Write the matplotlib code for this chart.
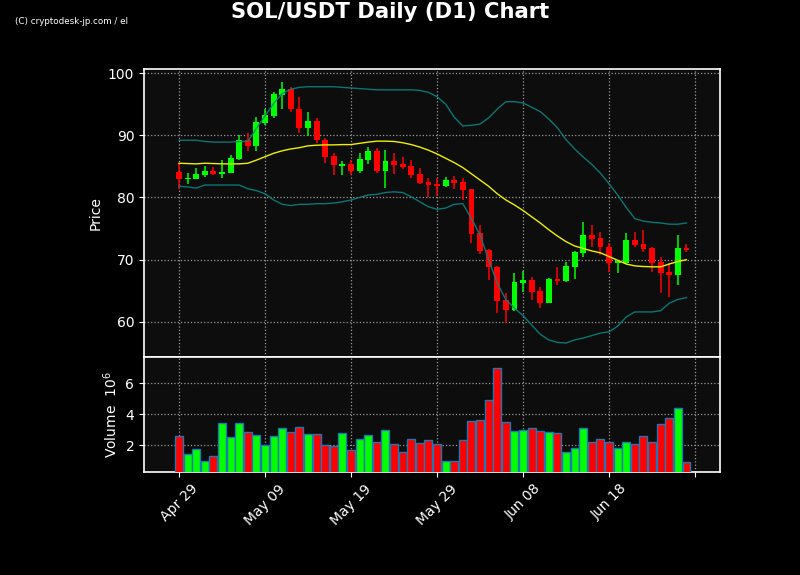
import numpy as np
import matplotlib
matplotlib.use("Agg")
import matplotlib.pyplot as plt
import pandas as pd

# Daily candles, Apr 29 - Jun 27
dates = pd.date_range("2024-04-29", periods=60, freq="D")

opens = [84.1, 83.0, 83.0, 83.65, 84.25, 83.8, 84.0, 86.2, 89.2, 88.3,
         92.0, 93.1, 96.5, 97.4, 94.3, 91.2, 92.3, 89.2, 86.65, 85.05,
         85.4, 84.3, 86.05, 87.5, 84.25, 85.85, 85.35, 85.05, 83.75, 82.5,
         82.2, 81.85, 82.8, 82.5, 81.35, 74.3, 71.55, 68.85, 63.5, 61.95,
         66.3, 66.7, 64.95, 63.1, 66.9, 66.6, 68.85, 71.1, 73.95, 73.45,
         72.0, 69.5, 69.5, 73.15, 72.5, 71.8, 69.6, 68.0, 67.55, 71.85]
highs = [85.5, 84.0, 84.8, 85.05, 84.9, 86.0, 86.9, 90.0, 90.4, 92.9,
         94.2, 97.0, 98.5, 97.8, 96.1, 93.7, 92.7, 89.5, 87.2, 85.85,
         86.1, 87.1, 88.05, 87.9, 87.6, 87.1, 86.55, 86.1, 84.8, 83.05,
         83.2, 83.25, 83.45, 83.1, 81.4, 75.6, 71.65, 68.95, 64.6, 67.8,
         68.15, 67.25, 65.65, 67.0, 68.75, 69.55, 71.35, 76.0, 75.65, 74.5,
         72.6, 69.85, 74.25, 74.5, 74.75, 72.0, 70.35, 69.5, 73.9, 72.5]
lows = [81.3, 82.2, 82.9, 83.3, 83.55, 83.2, 84.0, 86.0, 87.5, 87.5,
        91.6, 92.7, 94.3, 93.7, 90.3, 89.8, 88.7, 85.5, 83.6, 83.55,
        83.65, 83.9, 85.3, 83.95, 81.45, 83.7, 84.6, 83.1, 82.15, 80.1,
        80.2, 81.7, 81.3, 79.6, 72.6, 70.9, 66.7, 61.4, 59.85, 61.8,
        64.75, 63.5, 62.2, 63.0, 65.85, 66.45, 66.85, 70.45, 72.05, 70.75,
        68.05, 67.8, 69.3, 72.05, 71.25, 68.05, 64.6, 63.95, 65.85, 71.25]
closes = [83.0, 83.2, 83.8, 84.25, 83.8, 84.1, 86.3, 89.2, 88.3, 92.1,
          93.25, 96.6, 97.4, 94.3, 91.2, 92.3, 89.2, 86.55, 85.25, 85.4,
          84.3, 86.2, 87.5, 84.25, 85.85, 85.15, 84.9, 83.65, 82.35, 82.05,
          81.85, 82.8, 82.35, 81.2, 74.2, 71.45, 68.75, 63.4, 61.95, 66.45,
          66.7, 64.85, 63.1, 66.9, 66.6, 69.0, 71.2, 73.95, 73.35, 72.0,
          69.5, 69.8, 73.15, 72.35, 71.7, 69.5, 67.9, 67.55, 71.8, 71.55]

# volume in millions
volumes = [2.58, 1.42, 1.78, 1.01, 1.29, 3.46, 2.52, 3.46, 2.88, 2.64,
           2.0, 2.58, 3.1, 2.84, 3.16, 2.71, 2.71, 2.0, 1.94, 2.77,
           1.68, 2.39, 2.64, 2.19, 2.97, 2.06, 1.55, 2.39, 2.13, 2.32,
           2.06, 1.01, 1.01, 2.32, 3.59, 3.65, 4.9, 7.01, 3.52, 2.94,
           3.01, 3.1, 2.94, 2.88, 2.81, 1.55, 1.85, 3.1, 2.19, 2.43,
           2.23, 1.85, 2.23, 2.1, 2.58, 2.19, 3.35, 3.74, 4.39, 0.9]

# bollinger bands
bb_mid = [85.5, 85.45, 85.4, 85.5, 85.45, 85.4, 85.4, 85.4, 85.5, 86.0,
          86.55, 87.1, 87.5, 87.8, 88.0, 88.3, 88.4, 88.45, 88.45, 88.5,
          88.5, 88.7, 88.9, 89.05, 89.05, 89.0, 88.8, 88.5, 88.1, 87.6,
          87.0, 86.3, 85.6, 84.8, 83.8, 82.8, 81.8, 80.6, 79.6, 78.8,
          77.9, 76.9, 75.9, 74.8, 73.8, 72.9, 72.2, 71.8, 71.4, 71.1,
          70.5, 69.9, 69.3, 69.0, 68.9, 68.85, 68.85, 69.3, 69.7, 70.0]
bb_upper = [89.2, 89.2, 89.2, 89.0, 88.9, 88.9, 88.9, 89.0, 89.0, 91.1,
            93.1, 95.1, 96.7, 97.4, 97.7, 97.8, 97.8, 97.8, 97.8, 97.7,
            97.6, 97.5, 97.4, 97.3, 97.3, 97.3, 97.3, 97.3, 97.2, 96.9,
            96.2, 95.0, 92.9, 91.5, 91.6, 91.8, 92.8, 94.2, 95.4, 95.4,
            95.2, 94.5, 93.8, 92.6, 91.2, 89.3, 87.8, 86.5, 85.3, 83.9,
            82.2, 80.4, 78.4, 76.6, 76.2, 76.0, 75.9, 75.7, 75.7, 75.9]
bb_lower = [81.8, 81.7, 81.5, 82.0, 82.0, 82.0, 82.0, 82.0, 81.4, 81.1,
            80.6, 79.6, 78.9, 78.7, 78.9, 78.9, 79.0, 79.0, 79.1, 79.3,
            79.6, 80.0, 80.4, 80.5, 80.8, 80.9, 80.8, 80.1, 79.3, 78.5,
            78.1, 78.3, 78.9, 79.0, 76.6, 74.0, 70.0, 66.2, 63.6, 62.2,
            61.0, 59.5, 58.0, 57.1, 56.7, 56.6, 57.1, 57.4, 57.8, 58.2,
            58.4, 59.3, 60.8, 61.6, 61.6, 61.6, 61.8, 63.0, 63.6, 63.9]

UP = "#00ff00"
DOWN = "#ff0000"
GRID = "#9a9a9a"

x = np.arange(len(dates))
o = np.array(opens)
c = np.array(closes)
colors = [UP if cc >= oo else DOWN for oo, cc in zip(o, c)]

fig = plt.figure(figsize=(8, 5.75), dpi=100, facecolor="black")
ax = fig.add_axes([0.18, 0.3791, 0.72, 0.5009])
axv = fig.add_axes([0.18, 0.1791, 0.72, 0.2], sharex=ax)

for a in (ax, axv):
    a.set_facecolor("#0d0d0d")
    for s in a.spines.values():
        s.set_color("white")
        s.set_linewidth(1.2)
    a.tick_params(colors="white", labelsize=10)
    a.grid(True, color=GRID, linestyle=":", linewidth=0.9)
    a.set_axisbelow(True)

# candles
ax.vlines(x, lows, highs, colors=colors, linewidth=1.1, zorder=2)
body = np.maximum(np.abs(c - o), 0.12)
ax.bar(x, body, bottom=np.minimum(o, c), width=0.68, color=colors,
       linewidth=0, zorder=3)

# bands
ax.plot(x, bb_upper, color="#0b8080", linewidth=1.0, alpha=0.9, zorder=4)
ax.plot(x, bb_lower, color="#0b8080", linewidth=1.0, alpha=0.9, zorder=4)
ax.plot(x, bb_mid, color="#f0f000", linewidth=1.0, zorder=4)

ax.set_ylim(54.35, 100.65)
ax.set_yticks([60, 70, 80, 90, 100])
ax.set_ylabel("Price", color="white", fontsize=10)

# volume
axv.bar(x, volumes, width=0.92, color=colors, edgecolor="#1f77b4",
        linewidth=1.0, zorder=3)
axv.set_ylim(0.28, 7.7)
axv.set_yticks([2, 4, 6])
axv.set_ylabel("Volume  $10^{6}$", color="white", fontsize=10)

tick_pos = list(range(0, 61, 10))
tick_lab = [dates[i].strftime("%b %d") if i < len(dates) else "" for i in tick_pos]
axv.set_xticks(tick_pos)
axv.set_xticklabels(tick_lab, rotation=45, ha="center")
ax.set_xlim(-4.07, 62.9)
plt.setp(ax.get_xticklabels(), visible=False)
ax.tick_params(axis="x", length=0)

fig.text(0.4875, 0.98, "SOL/USDT Daily (D1) Chart", color="white",
         fontsize=15.2, fontweight="bold", ha="center", va="center")
fig.text(0.019, 0.963, "(C) cryptodesk-jp.com / el", color="white",
         fontsize=6.3, ha="left", va="center")

fig.savefig("out.png", dpi=100, facecolor="black")
